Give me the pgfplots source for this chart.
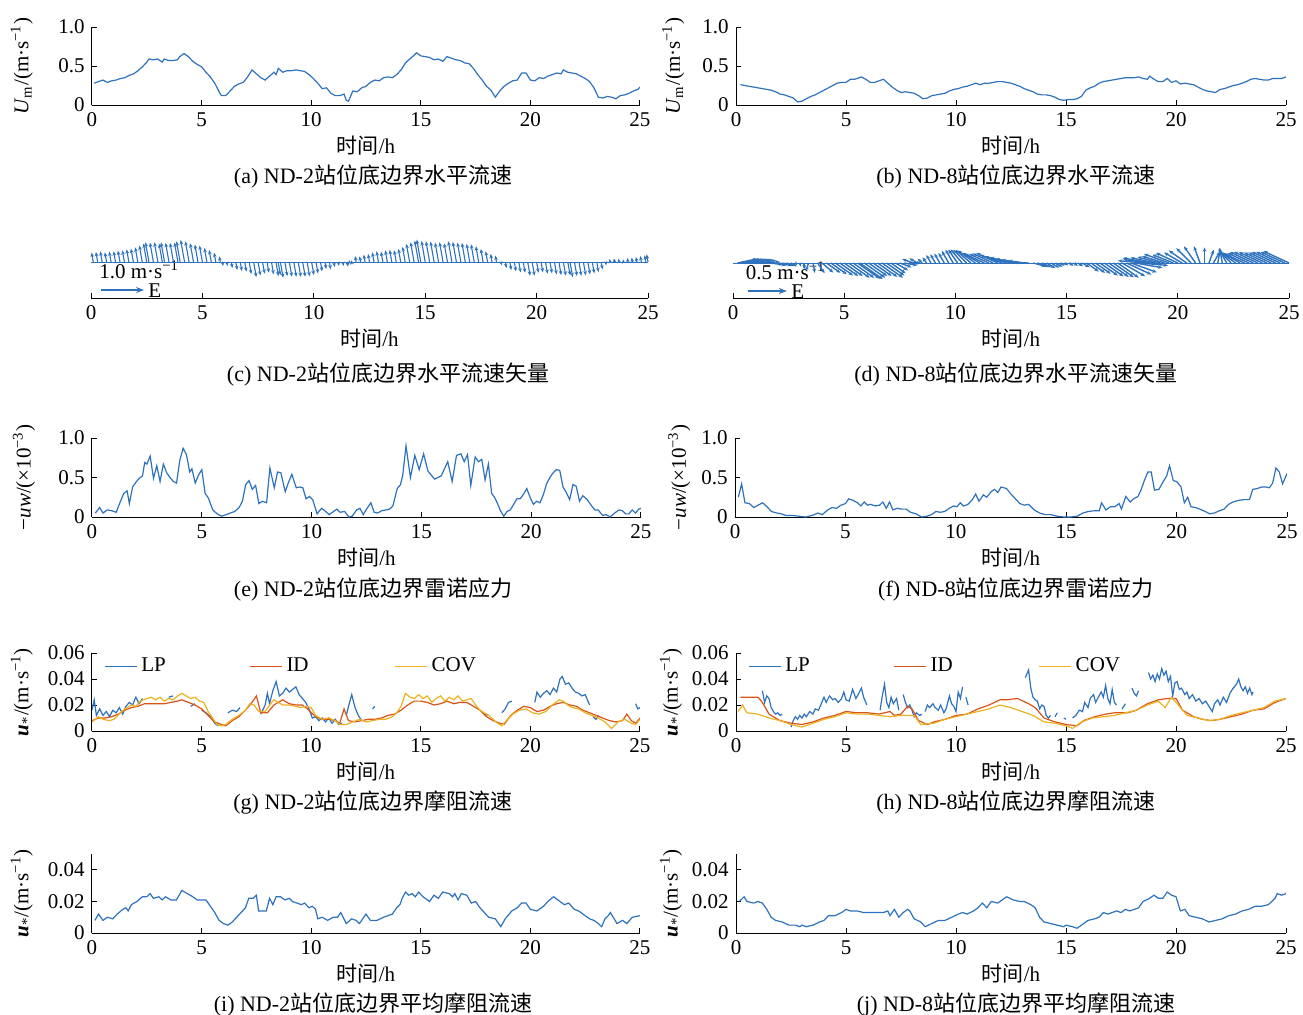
\documentclass[border=0pt]{standalone}
\usepackage{fontspec}
\setmainfont{Liberation Serif}
\newfontfamily\cjk{Noto Sans CJK SC}
\usepackage{pgfplots}
\usepackage{pgfplotstable}
\pgfplotsset{compat=1.18}
\usetikzlibrary{arrows.meta}
\definecolor{cb}{RGB}{46,114,189}
\definecolor{cr}{RGB}{217,83,25}
\definecolor{cy}{RGB}{237,177,32}

\pgfplotstableread{
t U A
0.1 0.28 100
0.3 0.30 100
0.5 0.32 100
0.7 0.29 100
0.9 0.31 100
1.1 0.32 100
1.3 0.34 100
1.5 0.35 100
1.7 0.38 100
1.9 0.40 100
2.1 0.44 100
2.3 0.49 100
2.5 0.55 100
2.6 0.59 100
2.8 0.58 100
3.0 0.59 100
3.2 0.55 100
3.3 0.59 100
3.5 0.57 100
3.7 0.57 100
3.9 0.58 100
4.0 0.62 100
4.2 0.66 100
4.4 0.62 100
4.6 0.56 100
4.8 0.52 100
5.0 0.49 100
5.2 0.42 100
5.4 0.36 100
5.6 0.28 100
5.8 0.17 100
5.9 0.12 280
6.1 0.12 280
6.3 0.18 280
6.5 0.24 280
6.7 0.27 280
6.9 0.29 280
7.1 0.36 280
7.3 0.45 280
7.5 0.40 280
7.7 0.35 280
7.9 0.32 280
8.1 0.37 280
8.3 0.42 280
8.4 0.39 280
8.5 0.47 280
8.7 0.42 280
8.9 0.44 280
9.1 0.44 280
9.3 0.45 280
9.5 0.44 280
9.7 0.43 280
9.9 0.39 280
10.1 0.34 280
10.3 0.28 280
10.5 0.21 280
10.7 0.22 280
10.9 0.15 280
11.1 0.12 280
11.3 0.12 280
11.5 0.14 280
11.6 0.06 100
11.7 0.05 100
11.9 0.18 100
12.1 0.17 100
12.3 0.22 100
12.5 0.24 100
12.7 0.29 100
12.9 0.32 100
13.1 0.31 100
13.3 0.35 100
13.5 0.36 100
13.7 0.35 100
13.9 0.39 100
14.1 0.45 100
14.3 0.54 100
14.5 0.59 100
14.7 0.64 100
14.8 0.67 100
15.0 0.63 100
15.2 0.62 100
15.4 0.61 100
15.6 0.58 100
15.8 0.59 100
16.0 0.56 100
16.2 0.62 100
16.4 0.60 100
16.6 0.58 100
16.8 0.57 100
17.0 0.54 100
17.2 0.53 100
17.4 0.47 100
17.6 0.39 100
17.8 0.32 100
18.0 0.24 100
18.2 0.19 100
18.4 0.10 280
18.6 0.18 280
18.8 0.24 280
19.0 0.28 280
19.2 0.31 280
19.4 0.32 280
19.6 0.41 280
19.8 0.41 280
20.0 0.32 280
20.2 0.31 280
20.4 0.35 280
20.6 0.34 280
20.8 0.37 280
21.0 0.39 280
21.2 0.41 280
21.4 0.40 280
21.5 0.45 280
21.7 0.42 280
21.9 0.41 280
22.1 0.40 280
22.3 0.37 280
22.5 0.34 280
22.7 0.30 280
22.9 0.22 280
23.1 0.10 280
23.3 0.09 100
23.5 0.11 100
23.7 0.10 100
23.9 0.08 100
24.1 0.12 100
24.3 0.13 100
24.5 0.15 100
24.7 0.18 100
24.9 0.20 100
25.0 0.23 100
}\NDtwoU

\pgfplotstableread{
t U A
0.2 0.26 12
0.4 0.25 12
0.6 0.24 12
0.8 0.23 12
1.0 0.22 12
1.2 0.21 10
1.4 0.20 5
1.6 0.19 -5
1.8 0.17 -10
2.0 0.14 -10
2.2 0.13 -15
2.4 0.11 -20
2.6 0.09 -30
2.8 0.04 -50
3.0 0.05 -70
3.2 0.08 -90
3.4 0.11 -110
3.6 0.13 -80
3.8 0.16 -55
4.0 0.19 -40
4.2 0.22 -35
4.4 0.25 -35
4.6 0.28 -35
4.8 0.29 -35
5.0 0.29 -35
5.2 0.33 -35
5.4 0.33 -35
5.6 0.35 -35
5.7 0.36 -35
5.9 0.33 -35
6.1 0.29 -35
6.3 0.29 -35
6.5 0.31 -35
6.7 0.33 -35
6.9 0.28 -35
7.1 0.23 -35
7.3 0.19 -30
7.5 0.16 -20
7.7 0.17 -10
7.9 0.16 0
8.1 0.15 160
8.3 0.12 150
8.5 0.08 135
8.7 0.09 125
8.9 0.12 120
9.1 0.13 120
9.3 0.14 120
9.5 0.15 120
9.7 0.18 120
9.9 0.20 120
10.1 0.21 125
10.3 0.23 130
10.5 0.24 135
10.7 0.26 140
10.9 0.28 145
11.1 0.26 150
11.3 0.28 155
11.5 0.28 155
11.7 0.29 155
11.9 0.30 155
12.1 0.30 160
12.3 0.29 163
12.5 0.28 165
12.7 0.26 168
12.9 0.24 170
13.1 0.21 172
13.3 0.19 178
13.5 0.17 -15
13.7 0.14 -20
13.9 0.13 -25
14.1 0.13 -30
14.3 0.12 -30
14.5 0.10 -30
14.7 0.07 -30
14.9 0.06 -30
15.1 0.07 -30
15.3 0.07 -30
15.5 0.08 -30
15.7 0.11 -30
15.9 0.19 -35
16.1 0.22 -35
16.3 0.24 -35
16.5 0.28 -35
16.7 0.30 -35
16.9 0.31 -35
17.1 0.32 -35
17.3 0.33 -35
17.5 0.34 -30
17.7 0.35 -25
17.9 0.35 -20
18.1 0.35 -10
18.3 0.36 -5
18.5 0.34 175
18.7 0.33 172
18.8 0.37 170
19.0 0.33 168
19.2 0.30 165
19.4 0.30 163
19.6 0.34 160
19.8 0.29 158
20.0 0.31 155
20.2 0.27 150
20.4 0.28 145
20.6 0.27 135
20.8 0.26 125
21.0 0.23 110
21.2 0.20 90
21.4 0.18 70
21.6 0.17 60
21.8 0.16 80
22.0 0.20 100
22.2 0.21 120
22.4 0.23 135
22.6 0.25 145
22.8 0.26 150
23.0 0.28 155
23.2 0.30 155
23.4 0.33 155
23.6 0.34 155
23.8 0.33 155
24.0 0.32 155
24.2 0.32 155
24.4 0.34 155
24.6 0.34 155
24.8 0.34 155
25.0 0.36 155
}\NDeightU

\pgfplotstableread{
t y
0.15 0.05
0.35 0.12
0.5 0.05
0.7 0.09
0.9 0.08
1.1 0.06
1.3 0.2
1.45 0.3
1.6 0.33
1.7 0.17
1.85 0.38
2.0 0.44
2.15 0.49
2.3 0.52
2.4 0.69
2.5 0.67
2.65 0.77
2.8 0.49
2.95 0.65
3.1 0.45
3.25 0.67
3.4 0.56
3.55 0.5
3.7 0.45
3.85 0.43
4.0 0.72
4.15 0.87
4.3 0.79
4.45 0.57
4.55 0.61
4.7 0.43
4.85 0.53
5.0 0.6
5.15 0.3
5.3 0.24
5.5 0.09
5.7 0.04
5.9 0.01
6.1 0.03
6.3 0.05
6.5 0.07
6.7 0.12
6.85 0.2
7.0 0.41
7.15 0.46
7.3 0.35
7.45 0.4
7.6 0.17
7.75 0.2
7.95 0.18
8.1 0.62
8.3 0.37
8.45 0.57
8.6 0.56
8.8 0.32
8.95 0.44
9.1 0.54
9.3 0.37
9.45 0.38
9.6 0.37
9.75 0.23
9.9 0.26
10.05 0.22
10.25 0.04
10.45 0.11
10.6 0.08
10.8 0.03
11.0 0.07
11.15 0.1
11.3 0.06
11.5 0.07
11.7 0.0
11.85 0.01
12.05 0.09
12.2 0.11
12.35 0.03
12.5 0.1
12.7 0.18
12.85 0.06
13.0 0.05
13.2 0.08
13.4 0.09
13.55 0.1
13.7 0.14
13.9 0.36
14.05 0.41
14.15 0.53
14.3 0.9
14.5 0.5
14.7 0.78
14.9 0.6
15.1 0.8
15.3 0.58
15.6 0.48
15.9 0.52
16.2 0.7
16.4 0.45
16.6 0.78
16.8 0.8
16.95 0.7
17.1 0.79
17.25 0.4
17.45 0.76
17.6 0.7
17.75 0.73
17.9 0.47
18.05 0.67
18.2 0.3
18.35 0.24
18.5 0.15
18.6 0.08
18.75 0.01
18.9 0.07
19.05 0.09
19.2 0.16
19.35 0.23
19.5 0.23
19.65 0.29
19.8 0.36
19.95 0.25
20.1 0.16
20.25 0.2
20.4 0.18
20.55 0.28
20.7 0.42
20.85 0.5
21.0 0.56
21.15 0.6
21.3 0.59
21.45 0.38
21.6 0.31
21.75 0.22
21.9 0.41
22.05 0.39
22.2 0.2
22.35 0.27
22.55 0.22
22.7 0.16
22.9 0.09
23.05 0.09
23.25 0.02
23.4 0.03
23.6 0.0
23.8 0.05
24.0 0.09
24.15 0.08
24.3 0.04
24.45 0.04
24.6 0.09
24.75 0.05
24.9 0.1
25.0 0.11
}\NDtwoR

\pgfplotstableread{
t y
0.15 0.25
0.3 0.42
0.45 0.18
0.65 0.17
0.85 0.12
1.05 0.15
1.25 0.18
1.45 0.13
1.65 0.07
1.9 0.05
2.1 0.04
2.3 0.02
2.6 0.02
2.9 0.01
3.2 0.0
3.5 0.02
3.75 0.05
3.95 0.03
4.2 0.09
4.4 0.12
4.6 0.11
4.8 0.15
5.0 0.17
5.15 0.23
5.35 0.21
5.55 0.18
5.7 0.14
5.85 0.19
6.0 0.15
6.15 0.16
6.35 0.14
6.55 0.15
6.7 0.19
6.85 0.11
7.0 0.19
7.15 0.09
7.35 0.11
7.55 0.1
7.75 0.1
7.95 0.06
8.2 0.04
8.45 0.0
8.7 0.01
8.9 0.03
9.1 0.07
9.3 0.06
9.5 0.07
9.7 0.11
9.9 0.14
10.05 0.13
10.2 0.18
10.35 0.14
10.55 0.16
10.75 0.22
10.9 0.29
11.05 0.2
11.25 0.28
11.4 0.25
11.6 0.32
11.75 0.35
11.9 0.31
12.05 0.38
12.3 0.36
12.5 0.29
12.7 0.23
12.9 0.17
13.1 0.15
13.3 0.16
13.55 0.09
13.8 0.05
14.05 0.03
14.3 0.03
14.6 0.01
14.9 0.0
15.2 0.0
15.5 0.01
15.75 0.05
16.0 0.07
16.3 0.08
16.5 0.08
16.6 0.18
16.8 0.09
17.0 0.13
17.2 0.13
17.4 0.17
17.5 0.1
17.7 0.26
17.9 0.19
18.05 0.23
18.25 0.26
18.4 0.35
18.55 0.47
18.7 0.57
18.85 0.57
19.0 0.34
19.2 0.35
19.4 0.45
19.55 0.52
19.68 0.65
19.85 0.46
20.0 0.45
20.2 0.38
20.35 0.18
20.5 0.25
20.65 0.13
20.85 0.12
21.05 0.1
21.3 0.07
21.5 0.04
21.7 0.05
21.95 0.08
22.15 0.1
22.35 0.16
22.55 0.19
22.8 0.21
23.05 0.22
23.3 0.22
23.45 0.35
23.65 0.36
23.85 0.38
24.05 0.38
24.2 0.37
24.35 0.43
24.5 0.62
24.65 0.57
24.8 0.42
25.0 0.55
}\NDeightR

\pgfplotstableread{
t y
0.0 0.016
0.1 0.024
0.2 0.012
0.35 0.017
0.5 0.012
0.65 0.015
0.8 0.011
0.95 0.016
1.1 0.014
1.25 0.018
1.4 0.013
1.55 0.019
1.7 0.022
1.85 0.02
2.0 0.026
2.15 0.021
2.3 0.025
2.4 nan
3.5 0.026
3.7 0.027
3.8 nan
4.5 0.019
4.7 0.021
4.8 nan
5.0 0.016
5.2 0.014
5.4 0.011
5.6 0.006
5.75 0.004
5.8 nan
6.2 0.014
6.4 0.016
6.6 0.015
6.75 0.018
6.8 nan
7.7 0.013
7.9 0.02
8.0 0.029
8.1 0.021
8.25 0.031
8.4 0.038
8.55 0.027
8.7 0.029
8.85 0.033
9.0 0.03
9.15 0.032
9.3 0.034
9.45 0.028
9.6 0.025
9.75 0.022
9.9 0.017
10.05 0.01
10.2 0.011
10.35 0.008
10.5 0.01
10.65 0.007
10.8 0.01
10.95 0.006
11.1 0.009
11.25 0.005
11.4 0.006
11.45 nan
11.6 0.012
11.75 0.022
11.85 0.028
12.0 0.018
12.15 0.012
12.3 0.008
12.35 nan
12.8 0.017
12.9 0.019
12.95 nan
17.9 0.013
18.1 0.012
18.2 nan
18.7 0.014
18.85 0.017
19.0 0.022
19.15 0.023
19.2 nan
20.2 0.022
20.3 0.03
20.45 0.026
20.6 0.029
20.75 0.031
20.9 0.028
21.05 0.033
21.2 0.03
21.35 0.04
21.45 0.042
21.6 0.036
21.75 0.037
21.9 0.033
22.05 0.03
22.2 0.029
22.35 0.027
22.5 0.028
22.6 0.024
22.7 0.02
22.75 nan
22.85 0.011
23.0 0.009
23.1 0.012
23.15 nan
24.8 0.021
24.9 0.017
25.0 0.018
}\LPg

\pgfplotstableread{
t y
0.0 0.008
0.3 0.01
0.6 0.01
0.9 0.011
1.2 0.013
1.5 0.016
1.8 0.018
2.1 0.019
2.4 0.021
2.7 0.021
3.0 0.021
3.3 0.021
3.6 0.022
3.9 0.023
4.1 0.024
4.4 0.022
4.7 0.02
5.0 0.017
5.3 0.012
5.6 0.007
5.9 0.005
6.1 0.004
6.4 0.008
6.7 0.011
7.0 0.016
7.3 0.022
7.5 0.027
7.7 0.014
8.0 0.014
8.3 0.02
8.5 0.022
8.7 0.024
9.0 0.021
9.3 0.02
9.6 0.02
9.9 0.016
10.2 0.011
10.5 0.009
10.8 0.009
11.1 0.008
11.3 0.006
11.5 0.017
11.7 0.008
12.0 0.007
12.3 0.008
12.6 0.009
12.9 0.009
13.2 0.01
13.5 0.012
13.8 0.013
14.1 0.016
14.4 0.02
14.7 0.023
15.0 0.023
15.3 0.022
15.6 0.02
15.9 0.021
16.2 0.023
16.5 0.021
16.8 0.022
17.1 0.022
17.4 0.019
17.7 0.016
18.0 0.011
18.3 0.008
18.6 0.006
18.8 0.005
19.1 0.012
19.4 0.016
19.7 0.019
20.0 0.018
20.3 0.015
20.6 0.016
20.9 0.019
21.2 0.021
21.5 0.022
21.8 0.02
22.1 0.019
22.4 0.016
22.7 0.014
23.0 0.012
23.3 0.01
23.6 0.008
23.9 0.007
24.2 0.008
24.4 0.013
24.6 0.008
24.8 0.006
25.0 0.01
}\IDg

\pgfplotstableread{
t y
0.0 0.007
0.3 0.011
0.5 0.009
0.8 0.008
1.0 0.009
1.3 0.014
1.5 0.017
1.8 0.02
2.0 0.019
2.2 0.023
2.5 0.025
2.7 0.026
2.9 0.024
3.1 0.026
3.3 0.023
3.5 0.025
3.7 0.024
3.9 0.027
4.1 0.029
4.3 0.027
4.5 0.025
4.7 0.026
4.9 0.023
5.1 0.022
5.3 0.015
5.5 0.01
5.7 0.005
5.9 0.004
6.1 0.005
6.4 0.009
6.7 0.012
7.0 0.016
7.2 0.021
7.4 0.02
7.6 0.015
7.9 0.015
8.1 0.02
8.3 0.024
8.5 0.022
8.7 0.02
9.0 0.02
9.3 0.019
9.5 0.018
9.8 0.019
10.0 0.018
10.2 0.012
10.5 0.009
10.8 0.01
11.1 0.008
11.3 0.005
11.6 0.005
11.9 0.007
12.2 0.009
12.5 0.007
12.8 0.008
13.1 0.009
13.4 0.009
13.7 0.011
13.9 0.014
14.1 0.019
14.3 0.029
14.5 0.026
14.7 0.025
14.9 0.028
15.1 0.025
15.3 0.027
15.5 0.022
15.7 0.025
15.9 0.027
16.1 0.023
16.3 0.026
16.5 0.024
16.7 0.027
16.9 0.023
17.1 0.024
17.3 0.025
17.5 0.02
17.7 0.016
17.9 0.014
18.1 0.012
18.3 0.009
18.5 0.006
18.7 0.004
18.9 0.008
19.2 0.013
19.5 0.016
19.8 0.017
20.1 0.014
20.4 0.013
20.7 0.015
21.0 0.02
21.3 0.024
21.5 0.023
21.7 0.02
21.9 0.018
22.2 0.017
22.5 0.014
22.8 0.012
23.1 0.01
23.4 0.007
23.7 0.002
24.0 0.007
24.3 0.009
24.6 0.006
24.8 0.005
25.0 0.009
}\COVg

\pgfplotstableread{
t y
1.2 0.031
1.3 0.022
1.4 0.027
1.5 0.025
1.6 0.018
1.7 0.015
1.8 0.013
1.9 0.014
2.0 0.012
2.1 0.013
2.15 nan
2.5 0.003
2.6 0.008
2.7 0.011
2.8 0.009
2.9 0.012
3.0 0.01
3.1 0.013
3.2 0.011
3.35 0.015
3.5 0.013
3.6 0.017
3.75 0.016
3.9 0.022
4.0 0.026
4.1 0.022
4.25 0.027
4.4 0.024
4.5 0.025
4.65 0.022
4.8 0.025
4.9 0.03
5.0 0.024
5.15 0.023
5.3 0.032
5.45 0.025
5.55 0.028
5.7 0.033
5.8 0.026
5.95 0.02
6.0 nan
6.2 0.018
6.25 nan
6.55 0.016
6.65 0.027
6.75 0.036
6.85 0.022
6.95 0.018
7.05 0.026
7.15 0.021
7.3 0.025
7.4 0.016
7.5 nan
7.6 0.028
7.7 0.022
7.8 0.018
7.9 0.02
8.0 0.016
8.1 0.011
8.2 0.014
8.35 0.012
8.45 0.013
8.5 nan
8.6 0.015
8.7 0.02
8.8 0.018
8.95 0.021
9.05 0.018
9.2 0.016
9.3 0.02
9.45 0.014
9.55 0.017
9.7 0.027
9.8 0.021
9.9 0.019
10.0 0.015
10.1 0.03
10.2 0.025
10.3 0.034
10.35 nan
10.45 0.026
10.55 0.02
10.6 nan
13.15 0.041
13.3 0.047
13.4 0.033
13.5 0.026
13.6 0.024
13.7 0.023
13.8 0.017
13.9 0.02
14.0 0.019
14.1 0.012
14.2 0.01
14.3 0.012
14.35 nan
14.5 0.011
14.6 0.014
14.65 nan
14.9 0.01
15.0 0.009
15.05 nan
15.3 0.01
15.45 0.012
15.6 0.016
15.75 0.015
15.85 0.022
16.0 0.018
16.1 0.025
16.25 0.028
16.35 0.022
16.5 0.027
16.6 0.03
16.7 0.026
16.8 0.035
16.9 0.025
17.0 0.021
17.1 0.032
17.2 0.022
17.3 0.02
17.35 nan
17.55 0.017
17.7 0.021
17.75 nan
18.0 0.033
18.1 0.029
18.2 0.027
18.3 0.031
18.35 nan
18.75 0.045
18.85 0.04
18.95 0.043
19.05 0.038
19.15 0.044
19.25 0.04
19.35 0.048
19.45 0.043
19.55 0.046
19.65 0.038
19.75 0.042
19.85 0.027
19.95 0.037
20.05 0.038
20.15 0.032
20.25 0.033
20.4 0.028
20.5 0.03
20.6 0.025
20.75 0.028
20.9 0.023
21.05 0.025
21.2 0.021
21.35 0.023
21.5 0.019
21.65 0.015
21.75 0.021
21.9 0.024
22.0 0.02
22.15 0.026
22.3 0.022
22.45 0.029
22.6 0.033
22.75 0.036
22.85 0.04
22.95 0.034
23.05 0.031
23.15 0.034
23.25 0.029
23.35 0.033
23.45 0.028
23.5 0.03
}\LPh

\pgfplotstableread{
t y
0.2 0.026
0.6 0.026
1.0 0.026
1.2 0.022
1.5 0.013
2.0 0.008
2.5 0.006
3.0 0.005
3.5 0.007
4.0 0.01
4.5 0.012
5.0 0.015
5.5 0.014
6.0 0.014
6.5 0.013
7.0 0.015
7.2 0.012
7.5 0.013
7.8 0.019
8.0 0.017
8.3 0.008
8.7 0.005
9.0 0.007
9.5 0.009
10.0 0.012
10.5 0.013
11.0 0.017
11.5 0.02
12.0 0.024
12.3 0.024
12.8 0.025
13.3 0.021
13.6 0.018
14.0 0.01
14.5 0.007
15.0 0.005
15.5 0.004
15.8 0.008
16.3 0.011
16.8 0.013
17.2 0.014
17.8 0.014
18.2 0.016
18.7 0.021
19.2 0.024
19.6 0.025
20.0 0.025
20.3 0.016
20.8 0.011
21.2 0.009
21.6 0.008
22.0 0.009
22.5 0.011
23.0 0.013
23.5 0.016
24.0 0.017
24.5 0.022
25.0 0.025
}\IDh

\pgfplotstableread{
t y
0.1 0.015
0.3 0.02
0.5 0.014
1.0 0.013
1.5 0.01
2.0 0.008
2.5 0.005
3.0 0.003
3.5 0.006
4.0 0.009
4.5 0.011
5.0 0.014
5.5 0.013
6.0 0.013
6.5 0.012
7.0 0.011
7.5 0.012
7.8 0.012
8.1 0.012
8.4 0.005
9.0 0.006
9.5 0.009
10.0 0.011
10.5 0.013
11.0 0.015
11.5 0.017
12.0 0.02
12.5 0.018
13.0 0.015
13.5 0.012
14.0 0.007
14.5 0.006
15.0 0.004
15.3 0.002
15.7 0.007
16.2 0.01
16.7 0.011
17.2 0.012
17.7 0.014
18.2 0.016
18.7 0.02
19.2 0.023
19.5 0.018
19.8 0.026
20.0 0.022
20.5 0.012
21.0 0.01
21.5 0.008
22.0 0.009
22.5 0.012
23.0 0.014
23.5 0.016
24.0 0.018
24.5 0.023
25.0 0.025
}\COVh

\pgfplotstableread{
t y
0.13 0.008
0.3 0.012
0.5 0.008
0.7 0.01
0.95 0.009
1.15 0.012
1.4 0.015
1.55 0.016
1.65 0.014
1.8 0.018
2.05 0.02
2.3 0.023
2.5 0.023
2.65 0.025
2.8 0.022
3.05 0.023
3.2 0.021
3.35 0.023
3.6 0.021
3.85 0.021
4.1 0.027
4.35 0.025
4.6 0.023
4.8 0.021
5.0 0.021
5.2 0.021
5.4 0.017
5.6 0.013
5.8 0.008
6.0 0.006
6.2 0.005
6.4 0.007
6.6 0.01
6.8 0.013
7.0 0.016
7.15 0.022
7.35 0.022
7.5 0.024
7.6 0.014
7.95 0.014
8.1 0.022
8.25 0.018
8.4 0.023
8.6 0.023
8.8 0.021
9.0 0.022
9.15 0.02
9.35 0.019
9.55 0.018
9.7 0.019
9.9 0.016
10.05 0.017
10.2 0.015
10.3 0.009
10.5 0.01
10.75 0.008
11.0 0.01
11.2 0.01
11.35 0.013
11.6 0.006
11.85 0.009
12.05 0.008
12.2 0.006
12.5 0.012
12.7 0.008
13.0 0.008
13.3 0.01
13.5 0.011
13.7 0.012
13.9 0.016
14.05 0.018
14.15 0.022
14.3 0.026
14.45 0.024
14.6 0.025
14.75 0.023
14.9 0.026
15.1 0.023
15.4 0.02
15.6 0.024
15.8 0.022
16.0 0.026
16.3 0.025
16.45 0.023
16.55 0.025
16.7 0.021
16.85 0.025
17.1 0.024
17.3 0.019
17.5 0.02
17.7 0.016
17.9 0.013
18.1 0.01
18.4 0.009
18.65 0.004
18.85 0.009
19.15 0.014
19.4 0.016
19.6 0.019
19.8 0.019
20.0 0.015
20.3 0.014
20.6 0.017
20.8 0.02
21.05 0.023
21.25 0.021
21.55 0.018
21.75 0.019
22.0 0.015
22.2 0.014
22.5 0.011
22.7 0.009
22.9 0.008
23.1 0.006
23.25 0.004
23.4 0.009
23.55 0.011
23.65 0.013
23.95 0.006
24.2 0.008
24.4 0.006
24.65 0.01
25.0 0.011
}\NDtwoM

\pgfplotstableread{
t y
0.15 0.02
0.37 0.023
0.5 0.02
0.8 0.019
1.0 0.02
1.2 0.019
1.4 0.015
1.6 0.01
1.8 0.008
2.1 0.007
2.4 0.005
2.7 0.005
2.9 0.004
3.0 0.005
3.2 0.004
3.5 0.005
3.8 0.007
4.0 0.008
4.2 0.011
4.5 0.011
4.8 0.013
5.0 0.015
5.2 0.014
5.5 0.014
5.8 0.013
6.1 0.013
6.4 0.013
6.7 0.013
6.9 0.014
7.0 0.011
7.2 0.015
7.4 0.01
7.6 0.013
7.8 0.015
7.9 0.014
8.1 0.009
8.4 0.007
8.6 0.004
8.9 0.006
9.2 0.008
9.5 0.008
9.8 0.01
10.1 0.012
10.3 0.013
10.5 0.012
10.8 0.014
11.0 0.016
11.2 0.019
11.4 0.016
11.6 0.02
11.9 0.019
12.1 0.021
12.3 0.023
12.6 0.021
12.9 0.02
13.1 0.02
13.4 0.018
13.6 0.016
13.8 0.01
14.0 0.007
14.3 0.006
14.6 0.005
14.9 0.004
15.0 0.005
15.3 0.004
15.5 0.003
15.8 0.006
16.0 0.008
16.3 0.009
16.5 0.01
16.7 0.013
16.9 0.012
17.1 0.013
17.3 0.014
17.5 0.013
17.7 0.015
17.9 0.014
18.1 0.015
18.3 0.016
18.5 0.02
18.8 0.022
19.0 0.024
19.2 0.022
19.4 0.022
19.6 0.026
19.8 0.024
20.0 0.023
20.2 0.014
20.4 0.015
20.6 0.011
20.9 0.01
21.2 0.009
21.5 0.007
21.8 0.008
22.1 0.009
22.4 0.011
22.7 0.012
23.0 0.014
23.3 0.015
23.6 0.017
23.9 0.017
24.2 0.018
24.5 0.022
24.6 0.025
24.8 0.024
25.0 0.025
}\NDeightM

\pgfplotsset{
  base/.style={scale only axis, anchor=south west,
    xmin=0, xmax=25, xtick={0,5,...,25},
    axis line style={-, line width=0.5pt, black},
    tick align=inside, major tick length=2.5pt,
    every tick/.style={black, line width=0.5pt},
    /pgf/number format/assume math mode=true,
    scaled y ticks=false,
    xlabel={{\cjk 时间}/h},
    xlabel style={at={(axis description cs:0.5,0)}, anchor=center, yshift=-20.5pt},
    line width=0.6pt},
  panel/.style={base, axis x line*=bottom, axis y line*=left},
  quiv/.style={base, axis x line*=bottom, axis y line=none, clip=false},
  yl/.style={ylabel style={at={(axis description cs:#1,0.5)}, anchor=center}},
  leg/.style={legend columns=3,
    legend style={draw=none, fill=none, at={(axis description cs:0.021,0.83)}, anchor=west, inner sep=0pt},
    legend image code/.code={\draw[##1] (0pt,0pt) -- (16pt,0pt);}},
}
\newcommand{\Uy}{\textit{U}\textsubscript{m}/(m·s\textsuperscript{−1})}
\newcommand{\Ry}{−\textit{uw}/(×10\textsuperscript{−3})}
\newcommand{\Sy}{\textbf{\textit{u}}\textsubscript{*}/(m·s\textsuperscript{−1})}

\begin{document}
\begin{tikzpicture}[font=\fontsize{10.5}{12}\selectfont]
\useasboundingbox (0,0) rectangle (651.5pt,-507pt);

% (a)
\begin{axis}[panel, yl=-0.128, at={(46pt,-52.5pt)}, width=274pt, height=39pt,
  ymin=0, ymax=1, ytick={0,0.5,1}, yticklabels={0,0.5,1.0}, ylabel={\Uy}]
\addplot[cb, line width=0.6pt] table[x=t, y=U] {\NDtwoU};
\end{axis}
% (b)
\begin{axis}[panel, yl=-0.114, at={(368pt,-52.5pt)}, width=275pt, height=39pt,
  ymin=0, ymax=1, ytick={0,0.5,1}, yticklabels={0,0.5,1.0}, ylabel={\Uy}]
\addplot[cb, line width=0.6pt] table[x=t, y=U] {\NDeightU};
\end{axis}

% (c)
\begin{axis}[quiv, at={(45.5pt,-149pt)}, width=278.5pt, height=38pt,
  ymin=-36, ymax=40]
\node[anchor=west, inner sep=0pt] at (axis cs:0.35,-8) {1.0 m·s\textsuperscript{−1}};
\addplot[cb, line width=0.5pt] coordinates {(0,0) (25,0)};
\addplot[cb, line width=0.55pt, -{Stealth[length=2.2pt,width=1.8pt]},
  quiver={u={\thisrow{U}*cos(\thisrow{A})*1.53}, v={\thisrow{U}*sin(\thisrow{A})*34}}]
  table[x=t, y expr=0] {\NDtwoU};
\addplot[cb, line width=0.6pt, -{Stealth[length=4pt,width=3pt]}, quiver={u=1.93, v=0}]
  coordinates {(0.45,-28)};
\node[anchor=west, inner sep=0pt] at (axis cs:2.55,-28.5) {E};
\end{axis}
% (d)
\begin{axis}[quiv, at={(366.5pt,-149pt)}, width=278pt, height=38pt,
  ymin=-35, ymax=41]
\node[anchor=west, inner sep=0pt] at (axis cs:0.55,-8) {0.5 m·s\textsuperscript{−1}};
\addplot[cb, line width=0.5pt] coordinates {(0,0) (25,0)};
\addplot[cb, line width=0.7pt, -{Stealth[length=2.2pt,width=1.8pt]},
  quiver={u={\thisrow{U}*cos(\thisrow{A})*3.507}, v={\thisrow{U}*sin(\thisrow{A})*78}}]
  table[x=t, y expr=0] {\NDeightU};
\addplot[cb, line width=0.6pt, -{Stealth[length=4pt,width=3pt]}, quiver={u=1.75, v=0}]
  coordinates {(0.67,-28)};
\node[anchor=west, inner sep=0pt] at (axis cs:2.6,-29) {E};
\end{axis}

% (e)
\begin{axis}[panel, yl=-0.124, at={(46pt,-258.5pt)}, width=274.5pt, height=39.5pt,
  ymin=0, ymax=1, ytick={0,0.5,1}, yticklabels={0,0.5,1.0}, ylabel={\Ry}]
\addplot[cb, line width=0.6pt] table[x=t, y=y] {\NDtwoR};
\end{axis}
% (f)
\begin{axis}[panel, yl=-0.101, at={(367.5pt,-258.5pt)}, width=276pt, height=39.5pt,
  ymin=0, ymax=1, ytick={0,0.5,1}, yticklabels={0,0.5,1.0}, ylabel={\Ry}]
\addplot[cb, line width=0.6pt] table[x=t, y=y] {\NDeightR};
\end{axis}

% (g)
\begin{axis}[panel, leg, yl=-0.128, at={(46pt,-365.5pt)}, width=274pt, height=39pt,
  ymin=0, ymax=0.06, ytick={0,0.02,0.04,0.06}, yticklabels={0,0.02,0.04,0.06},
  ylabel={\Sy}, unbounded coords=jump]
\addplot[cb, line width=0.6pt] table[x=t, y=y] {\LPg};
\addlegendentry{\makebox[52pt][l]{LP}}
\addplot[cr, line width=0.6pt] table[x=t, y=y] {\IDg};
\addlegendentry{\makebox[52pt][l]{ID}}
\addplot[cy, line width=0.6pt] table[x=t, y=y] {\COVg};
\addlegendentry{\makebox[52pt][l]{COV}}
\end{axis}
% (h)
\begin{axis}[panel, leg, yl=-0.118, at={(368pt,-365.5pt)}, width=275pt, height=39pt,
  ymin=0, ymax=0.06, ytick={0,0.02,0.04,0.06}, yticklabels={0,0.02,0.04,0.06},
  ylabel={\Sy}, unbounded coords=jump]
\addplot[cb, line width=0.6pt] table[x=t, y=y] {\LPh};
\addlegendentry{\makebox[52pt][l]{LP}}
\addplot[cr, line width=0.6pt] table[x=t, y=y] {\IDh};
\addlegendentry{\makebox[52pt][l]{ID}}
\addplot[cy, line width=0.6pt] table[x=t, y=y] {\COVh};
\addlegendentry{\makebox[52pt][l]{COV}}
\end{axis}

% (i)
\begin{axis}[panel, yl=-0.128, at={(46pt,-466.5pt)}, width=274pt, height=39.4pt,
  ymin=0, ymax=0.05, ytick={0,0.02,0.04}, yticklabels={0,0.02,0.04}, ylabel={\Sy}]
\addplot[cb, line width=0.6pt] table[x=t, y=y] {\NDtwoM};
\end{axis}
% (j)
\begin{axis}[panel, yl=-0.118, at={(368pt,-466.5pt)}, width=275pt, height=39.4pt,
  ymin=0, ymax=0.05, ytick={0,0.02,0.04}, yticklabels={0,0.02,0.04}, ylabel={\Sy}]
\addplot[cb, line width=0.6pt] table[x=t, y=y] {\NDeightM};
\end{axis}

% captions
\begin{scope}[font=\fontsize{11}{13}\selectfont]
\node at (186.5pt,-88.5pt) {(a) ND-2{\cjk 站位底边界水平流速}};
\node at (508pt,-88.5pt) {(b) ND-8{\cjk 站位底边界水平流速}};
\node at (194pt,-187.5pt) {(c) ND-2{\cjk 站位底边界水平流速矢量}};
\node at (508pt,-187.5pt) {(d) ND-8{\cjk 站位底边界水平流速矢量}};
\node at (186.5pt,-295pt) {(e) ND-2{\cjk 站位底边界雷诺应力}};
\node at (508pt,-295pt) {(f) ND-8{\cjk 站位底边界雷诺应力}};
\node at (186.5pt,-401.5pt) {(g) ND-2{\cjk 站位底边界摩阻流速}};
\node at (508pt,-401.5pt) {(h) ND-8{\cjk 站位底边界摩阻流速}};
\node at (186.5pt,-502pt) {(i) ND-2{\cjk 站位底边界平均摩阻流速}};
\node at (508pt,-502pt) {(j) ND-8{\cjk 站位底边界平均摩阻流速}};
\end{scope}
\end{tikzpicture}
\end{document}
